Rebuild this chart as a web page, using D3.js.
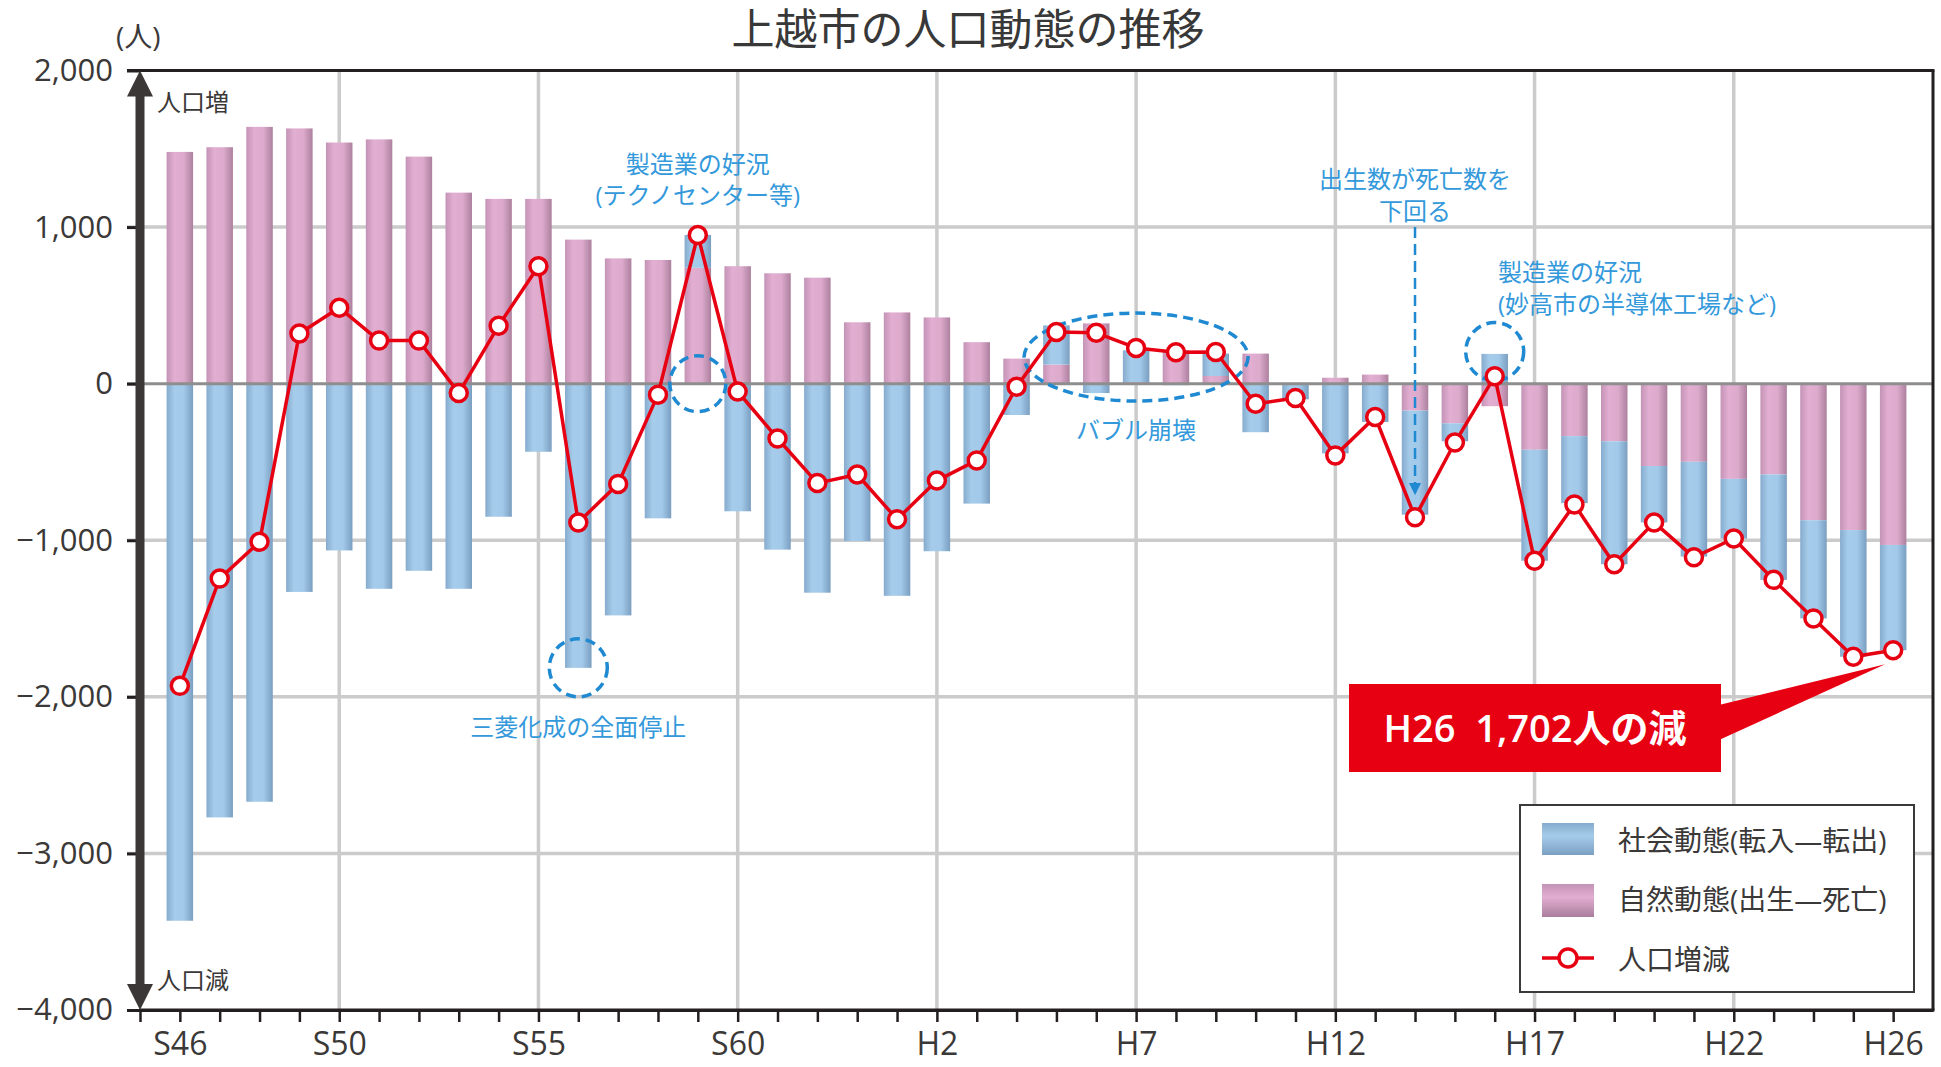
<!DOCTYPE html>
<html>
<head>
<meta charset="utf-8">
<script src="https://cdn.jsdelivr.net/npm/d3@7"></script>
<style>
  body { margin: 0; background: #fff; }
  svg { display: block; }
  text { font-family: "Open Sans", "Noto Sans CJK JP", sans-serif; }
</style>
</head>
<body>
<svg id="chart" width="1941" height="1067"></svg>
<script>
// Fiscal years, Showa 46 through Heisei 26
const years = [
  "S46","S47","S48","S49","S50","S51","S52","S53","S54","S55",
  "S56","S57","S58","S59","S60","S61","S62","S63",
  "H1","H2","H3","H4","H5","H6","H7","H8","H9","H10",
  "H11","H12","H13","H14","H15","H16","H17","H18","H19","H20",
  "H21","H22","H23","H24","H25","H26"
];

// 自然動態 (births - deaths)
const natural = [
  1480, 1510, 1640, 1630, 1540, 1560, 1450, 1220, 1180, 1180,
   920,  800,  790,  740,  750,  705,  677,  392,
   455,  423,  265,  160,  122,  385,   10,  213,   49,  192,
     5,   38,   58, -172, -253, -144, -422, -335, -368, -526,
  -499, -608, -580, -872, -935, -1030
];

// 社会動態 (moving in - moving out)
const social = [
  -3430, -2770, -2670, -1330, -1065, -1310, -1195, -1310, -850, -435,
  -1815, -1480,  -860,   210,  -815, -1060, -1335, -1005,
  -1355, -1070,  -766,  -200,   250,   -60,   203,   -10,  143, -310,
   -100,  -445,  -245,  -665,  -115,   190,  -709,  -428, -785, -360,
   -605,  -381,  -673,  -627,  -809,  -672
];

// 人口増減 (net change)
const total = [
  -1930, -1245, -1010,   320,   485,   275,   275,   -60,   370,   750,
   -886,  -640,   -70,   950,   -50,  -350,  -635,  -580,
   -866,  -619,  -490,   -20,   330,   325,   228,   200,   202,  -128,
    -92,  -458,  -213,  -853,  -376,    47, -1131,  -771, -1153,  -886,
  -1109,  -989, -1253, -1499, -1744, -1702
];

const labelledYears = ["S46","S50","S55","S60","H2","H7","H12","H17","H22","H26"];
const gridYears = ["S50","S55","S60","H2","H7","H12","H17","H22"];
const yTicks = [2000, 1000, 0, -1000, -2000, -3000, -4000];

const svg = d3.select("#chart");
const plotLeft = 140, plotRight = 1933, plotTop = 70.5, plotBottom = 1010;

const x = d3.scaleLinear().domain([-1, years.length]).range([plotLeft, plotRight]);
const y = d3.scaleLinear().domain([-4000, 2000]).range([plotBottom, plotTop]);
const idx = name => years.indexOf(name);
const step = x(1) - x(0);
const barW = step * 0.665;

const textColor = "#3b3838";
const red = "#e60012";
const annoBlue = "#1f8ad2";
const annoText = "#3499db";
const cjk = "'Noto Sans CJK JP', sans-serif";

// ---- gradients for cylindrical bar shading
const defs = svg.append("defs");
function addGrad(id, stops, vertical) {
  const g = defs.append("linearGradient").attr("id", id)
    .attr("x1", 0).attr("y1", 0)
    .attr("x2", vertical ? 0 : 1).attr("y2", vertical ? 1 : 0);
  stops.forEach(([o, c]) => g.append("stop").attr("offset", o).attr("stop-color", c));
}
addGrad("gBlue", [[0, "#86abcd"], [0.3, "#a6cceb"], [0.65, "#a2c9e9"], [1, "#7a9ec0"]]);
addGrad("gPink", [[0, "#c393b6"], [0.3, "#e2aed1"], [0.65, "#dcaacc"], [1, "#ad809e"]]);
addGrad("gBlueV", [[0, "#86abcd"], [0.4, "#a6cceb"], [1, "#7b9fc1"]], true);
addGrad("gPinkV", [[0, "#c393b6"], [0.4, "#e2aed1"], [1, "#a97e9c"]], true);

// ---- grid
const grid = svg.append("g");
grid.selectAll("line.v").data(gridYears).join("line").attr("class", "v")
  .attr("x1", d => x(idx(d))).attr("x2", d => x(idx(d)))
  .attr("y1", plotTop).attr("y2", plotBottom)
  .attr("stroke", "#cbcbcb").attr("stroke-width", 3.5);
grid.selectAll("line.h").data([1000, -1000, -2000, -3000]).join("line").attr("class", "h")
  .attr("x1", 127).attr("x2", plotRight)
  .attr("y1", d => y(d)).attr("y2", d => y(d))
  .attr("stroke", "#cbcbcb").attr("stroke-width", 3.5);

// ---- stacked bars (natural first, social stacked on the same sign)
const rows = years.map((yr, i) => ({ i, natural: natural[i], social: social[i] }));
const stacked = d3.stack().keys(["natural", "social"]).offset(d3.stackOffsetDiverging)(rows);
const fills = { natural: "url(#gPink)", social: "url(#gBlue)" };
const bars = svg.append("g");
stacked.forEach(layer => {
  bars.append("g").selectAll("rect").data(layer).join("rect")
    .attr("x", d => x(d.data.i) - barW / 2)
    .attr("width", barW)
    .attr("y", d => y(Math.max(d[0], d[1])))
    .attr("height", d => Math.abs(y(d[0]) - y(d[1])))
    .attr("fill", fills[layer.key]);
});

// zero line
svg.append("line")
  .attr("x1", 127).attr("x2", plotRight).attr("y1", y(0)).attr("y2", y(0))
  .attr("stroke", "#8e8e8e").attr("stroke-width", 3);

// top and right frame
svg.append("line").attr("x1", 127).attr("x2", plotRight + 1.5).attr("y1", y(2000)).attr("y2", y(2000))
  .attr("stroke", "#231f20").attr("stroke-width", 3);
svg.append("line").attr("x1", plotRight).attr("x2", plotRight).attr("y1", y(2000)).attr("y2", plotBottom)
  .attr("stroke", "#231f20").attr("stroke-width", 3);

// ---- annotations (dashed markers)
const anno = svg.append("g").attr("fill", "none").attr("stroke", annoBlue)
  .attr("stroke-width", 3.5).attr("stroke-dasharray", "10 6");
anno.append("circle").attr("cx", x(idx("S59"))).attr("cy", y(0)).attr("r", 28);
anno.append("circle").attr("cx", x(idx("S56"))).attr("cy", y(social[idx("S56")])).attr("r", 29);
anno.append("circle").attr("cx", x(idx("H16"))).attr("cy", y(205)).attr("r", 29);
anno.append("ellipse").attr("cx", x(idx("H7"))).attr("cy", y(170)).attr("rx", 112).attr("ry", 44);

// dashed arrow at H14
const ax = x(idx("H14"));
svg.append("line").attr("x1", ax).attr("x2", ax).attr("y1", y(1000)).attr("y2", y(-640))
  .attr("stroke", annoBlue).attr("stroke-width", 2.5).attr("stroke-dasharray", "11 6");
svg.append("path")
  .attr("d", `M${ax - 6},${y(-635)} L${ax + 6},${y(-635)} L${ax},${y(-712)} Z`)
  .attr("fill", annoBlue);

const annoLabels = [
  { t: "製造業の好況", x: x(idx("S59")), y: 164, a: "middle" },
  { t: "(テクノセンター等)", x: x(idx("S59")), y: 195, a: "middle" },
  { t: "三菱化成の全面停止", x: x(idx("S56")), y: 727, a: "middle" },
  { t: "バブル崩壊", x: x(idx("H7")), y: 430, a: "middle" },
  { t: "出生数が死亡数を", x: ax, y: 179, a: "middle" },
  { t: "下回る", x: ax, y: 211, a: "middle" },
  { t: "製造業の好況", x: 1498, y: 272, a: "start" },
  { t: "(妙高市の半導体工場など)", x: 1498, y: 304, a: "start" }
];
svg.append("g").selectAll("text").data(annoLabels).join("text")
  .attr("x", d => d.x).attr("y", d => d.y).attr("dy", "0.36em")
  .attr("text-anchor", d => d.a)
  .attr("font-family", cjk)
  .attr("fill", annoText).attr("font-size", 24)
  .text(d => d.t);

// ---- net change line
const line = d3.line().x((d, i) => x(i)).y(d => y(d));
svg.append("path").datum(total).attr("d", line)
  .attr("fill", "none").attr("stroke", red).attr("stroke-width", 3.5)
  .attr("stroke-linejoin", "round");
svg.append("g").selectAll("circle").data(total).join("circle")
  .attr("cx", (d, i) => x(i)).attr("cy", d => y(d)).attr("r", 8.5)
  .attr("fill", "#fff").attr("stroke", red).attr("stroke-width", 3.5);

// ---- x axis
const labelSet = new Set(labelledYears);
const xAxis = d3.axisBottom(x)
  .tickValues(d3.range(-1, years.length))
  .tickSize(12).tickSizeOuter(0)
  .tickFormat(i => (i >= 0 && labelSet.has(years[i])) ? years[i] : "");
const gx = svg.append("g").attr("transform", `translate(0,${plotBottom})`).call(xAxis);
gx.select(".domain").attr("stroke", "#231f20").attr("stroke-width", 3);
gx.selectAll(".tick line").attr("stroke", "#231f20").attr("stroke-width", 2.5);
gx.selectAll(".tick text").attr("fill", textColor).attr("font-size", 32)
  .attr("font-family", "'Open Sans', 'Noto Sans CJK JP', sans-serif").attr("dy", "0.93em");
svg.append("line").attr("x1", plotLeft - 1).attr("x2", plotRight + 1.5).attr("y1", plotBottom).attr("y2", plotBottom)
  .attr("stroke", "#231f20").attr("stroke-width", 3);

// ---- y axis ticks and labels
const yAxis = d3.axisLeft(y).tickValues(yTicks).tickSize(13).tickFormat(d3.format(","));
const gy = svg.append("g").attr("transform", `translate(${plotLeft},0)`).call(yAxis);
gy.select(".domain").remove();
gy.selectAll(".tick line").attr("stroke", "#231f20").attr("stroke-width", 3);
gy.selectAll(".tick text").attr("fill", textColor).attr("font-size", 31)
  .attr("font-family", "'Open Sans', 'Noto Sans CJK JP', sans-serif").attr("x", -27);

// double-headed arrow along the value axis
const arrow = svg.append("g").attr("fill", "#3b3737");
arrow.append("rect").attr("x", plotLeft - 4.5).attr("y", y(2000) + 20).attr("width", 9)
  .attr("height", (plotBottom - 20) - (y(2000) + 20));
arrow.append("path").attr("d", `M${plotLeft},${y(2000)} L${plotLeft - 13},${y(2000) + 26} L${plotLeft + 13},${y(2000) + 26} Z`);
arrow.append("path").attr("d", `M${plotLeft},${plotBottom} L${plotLeft - 13},${plotBottom - 26} L${plotLeft + 13},${plotBottom - 26} Z`);

svg.append("text").attr("x", 157).attr("y", 102).attr("dy", "0.36em")
  .attr("font-family", cjk).attr("font-size", 24).attr("fill", textColor).text("人口増");
svg.append("text").attr("x", 157).attr("y", 980).attr("dy", "0.36em")
  .attr("font-family", cjk).attr("font-size", 24).attr("fill", textColor).text("人口減");
svg.append("text").attr("x", 116).attr("y", 37).attr("dy", "0.36em")
  .attr("font-size", 28).attr("fill", textColor).text("(人)");

// ---- title
svg.append("text").attr("x", 968).attr("y", 30).attr("dy", "0.36em")
  .attr("text-anchor", "middle").attr("font-size", 43)
  .attr("font-family", cjk)
  .attr("fill", "#383838").text("上越市の人口動態の推移");

// ---- callout for the latest year
const last = years.length - 1;
const px = x(last), py = y(total[last]);
const cb = { x: 1349, y: 684, w: 372, h: 88 };
svg.append("path")
  .attr("d", `M${cb.x + cb.w - 2},${cb.y + 21} L${px - 8},${py + 14} L${cb.x + cb.w - 2},${cb.y + 56} Z`)
  .attr("fill", red);
svg.append("rect").attr("x", cb.x).attr("y", cb.y).attr("width", cb.w).attr("height", cb.h)
  .attr("fill", red);
svg.append("text").attr("x", cb.x + cb.w / 2).attr("y", cb.y + cb.h / 2).attr("dy", "0.36em")
  .attr("text-anchor", "middle").attr("font-size", 38).attr("font-weight", 600)
  .attr("fill", "#fff").style("white-space", "pre")
  .text(`${years[last]}  ${d3.format(",")(-total[last])}人の減`);

// ---- legend
const lg = svg.append("g");
lg.append("rect").attr("x", 1520).attr("y", 805).attr("width", 394).attr("height", 187)
  .attr("fill", "#fff").attr("stroke", "#3a3a3a").attr("stroke-width", 2);
lg.append("rect").attr("x", 1542).attr("y", 823).attr("width", 52).attr("height", 32).attr("fill", "url(#gBlueV)");
lg.append("rect").attr("x", 1542).attr("y", 884).attr("width", 52).attr("height", 33).attr("fill", "url(#gPinkV)");
lg.append("line").attr("x1", 1542).attr("x2", 1594).attr("y1", 958).attr("y2", 958)
  .attr("stroke", red).attr("stroke-width", 3.5);
lg.append("circle").attr("cx", 1568).attr("cy", 958).attr("r", 9)
  .attr("fill", "#fff").attr("stroke", red).attr("stroke-width", 3.5);
const legendText = [
  { t: "社会動態(転入―転出)", y: 841 },
  { t: "自然動態(出生―死亡)", y: 900 },
  { t: "人口増減", y: 960 }
];
lg.selectAll("text").data(legendText).join("text")
  .attr("x", 1618).attr("y", d => d.y).attr("dy", "0.36em")
  .attr("font-family", cjk)
  .attr("font-size", 28).attr("fill", textColor).text(d => d.t);
</script>
</body>
</html>
